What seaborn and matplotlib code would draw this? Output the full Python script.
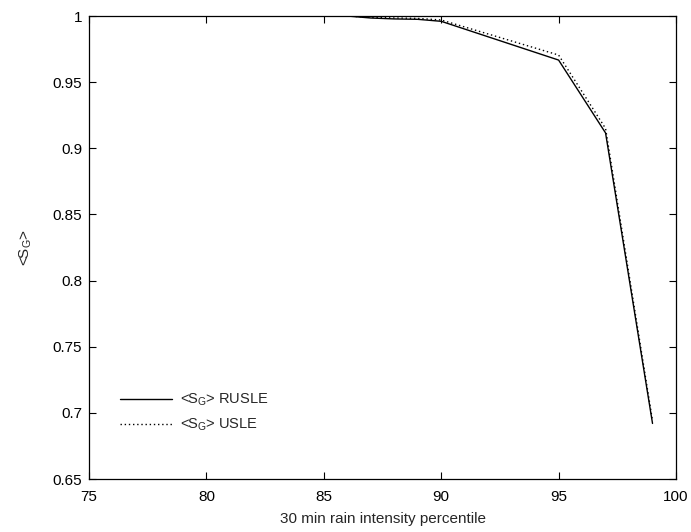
import matplotlib
matplotlib.use("Agg")
import matplotlib.pyplot as plt
import seaborn as sns
import pandas as pd

percentile = [75, 80, 85, 86, 87, 88, 89, 90, 95, 97, 99]
sg_rusle = [1.0, 1.0, 1.0, 1.0, 0.9985, 0.9978, 0.9975, 0.9960, 0.9667, 0.9116, 0.692]
sg_usle = [1.0, 1.0, 1.0, 1.0, 0.9990, 0.9985, 0.9982, 0.9970, 0.9705, 0.9150, 0.694]

x_ticks = [75, 80, 85, 90, 95, 100]
y_ticks = [0.65, 0.7, 0.75, 0.8, 0.85, 0.9, 0.95, 1.0]
y_tick_labels = ["0.65", "0.7", "0.75", "0.8", "0.85", "0.9", "0.95", "1"]

sns.set_theme(style="ticks")
plt.rcParams["font.family"] = ["Liberation Sans Narrow", "Liberation Sans", "DejaVu Sans"]
plt.rcParams["mathtext.fontset"] = "custom"
plt.rcParams["mathtext.rm"] = "Liberation Sans"
plt.rcParams["mathtext.it"] = "Liberation Sans"

df = pd.DataFrame({"percentile": percentile, "rusle": sg_rusle, "usle": sg_usle})

fig = plt.figure(figsize=(6.91, 5.32), dpi=100)
ax = fig.add_axes([0.1288, 0.0996, 0.8495, 0.8703])

sns.lineplot(data=df, x="percentile", y="rusle", ax=ax, color="black", lw=1.0,
             label=r"<S$_\mathrm{G}$> RUSLE")
sns.lineplot(data=df, x="percentile", y="usle", ax=ax, color="black", lw=1.0,
             linestyle=(0, (1, 2)), label=r"<S$_\mathrm{G}$> USLE")

ax.set_xlim(75, 100)
ax.set_ylim(0.65, 1.0)
ax.set_xticks(x_ticks)
ax.set_yticks(y_ticks)
ax.set_yticklabels(y_tick_labels)
ax.tick_params(direction="in", top=True, right=True, length=5, width=0.8,
               labelsize=11, colors="black")
ax.tick_params(axis="x", pad=8)
ax.tick_params(axis="y", pad=5)
for s in ax.spines.values():
    s.set_visible(True)
    s.set_linewidth(0.9)
    s.set_color("black")

ax.set_xlabel("30 min rain intensity percentile", fontsize=11, labelpad=6)
ax.set_ylabel(r"<S$_\mathrm{G}$>", fontsize=11, labelpad=13)

leg = ax.legend(loc="lower left", bbox_to_anchor=(0.03, 0.07), frameon=False,
                fontsize=10.5, handlelength=3.6, handletextpad=0.5, labelspacing=0.6)

fig.savefig("out.png", dpi=100)
